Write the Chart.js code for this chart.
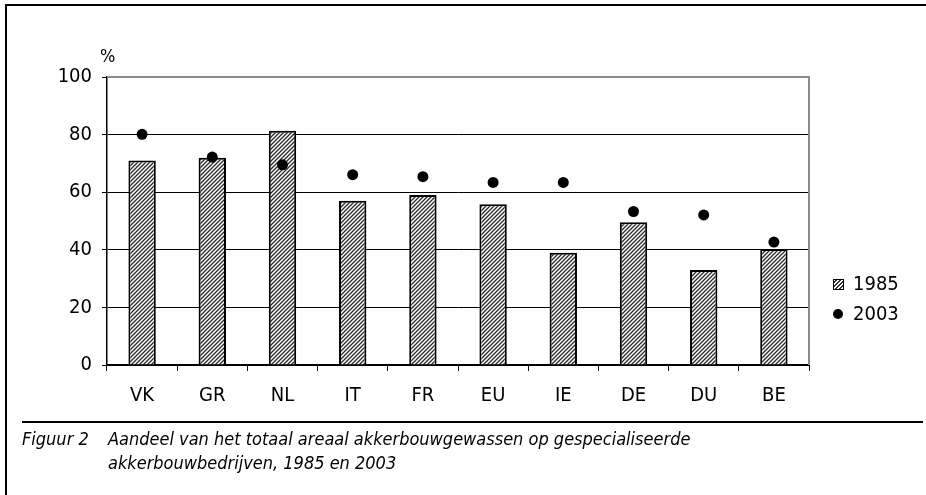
<!DOCTYPE html>
<html><head><meta charset="utf-8">
<script src="https://cdn.jsdelivr.net/npm/chart.js@4.4.1/dist/chart.umd.min.js"></script>
<style>
html,body{margin:0;padding:0;background:#fff;}
#wrap{position:relative;width:926px;height:495px;overflow:hidden;background:#fff;}
#c{position:absolute;left:0;top:0;}
.frameTop{position:absolute;left:5px;top:4px;width:921px;height:2px;background:#000;}
.frameLeft{position:absolute;left:5px;top:4px;width:2px;height:491px;background:#000;}
.capLine{position:absolute;left:22px;top:421px;width:901px;height:2px;background:#000;}
.cap{position:absolute;font-family:"DejaVu Sans Condensed","DejaVu Sans",sans-serif;font-stretch:condensed;font-style:italic;font-size:18px;color:#000;white-space:nowrap;}
.pct{position:absolute;left:100px;top:45px;font-family:"DejaVu Sans Condensed","DejaVu Sans",sans-serif;font-stretch:condensed;font-size:18px;}
.leg{position:absolute;font-family:"DejaVu Sans Condensed","DejaVu Sans",sans-serif;font-stretch:condensed;font-size:20px;white-space:nowrap;}
.sw{position:absolute;left:833px;top:279px;width:9px;height:9px;border:1px solid #000;background:repeating-linear-gradient(-45deg,#fff 0 1.5px,#333 1.5px 3px);}
.dot{position:absolute;left:833px;top:309px;width:10px;height:10px;border-radius:50%;background:#000;}
</style></head>
<body>
<div id="wrap">
<canvas id="c" width="926" height="495"></canvas>
<div class="frameTop"></div><div class="frameLeft"></div>
<div class="pct">%</div>
<div class="sw"></div><div class="leg" style="left:853px;top:271px;">1985</div>
<div class="dot"></div><div class="leg" style="left:853px;top:301px;">2003</div>
<div class="capLine"></div>
<div class="cap" style="left:22px;top:428px;">Figuur 2</div>
<div class="cap" style="left:108px;top:428px;">Aandeel van het totaal areaal akkerbouwgewassen op gespecialiseerde</div>
<div class="cap" style="left:108px;top:452px;">akkerbouwbedrijven, 1985 en 2003</div>
</div>
<script>
const categories = ["VK","GR","NL","IT","FR","EU","IE","DE","DU","BE"];
const values1985 = [71, 72, 81.3, 57, 59, 55.8, 39, 49.6, 33, 40.3];
const values2003 = [80.1, 72.2, 69.5, 66.1, 65.4, 63.4, 63.4, 53.3, 52.1, 42.7];
const yTicks = [0, 20, 40, 60, 80, 100];

function hatch(){
  const p = document.createElement('canvas');
  p.width = 4; p.height = 4;
  const g = p.getContext('2d');
  g.fillStyle = '#fff'; g.fillRect(0,0,4,4);
  g.strokeStyle = '#2a2a2a'; g.lineWidth = 1.3;
  g.beginPath();
  g.moveTo(-1,5); g.lineTo(5,-1);
  g.moveTo(-1,1); g.lineTo(1,-1);
  g.moveTo(3,5); g.lineTo(5,3);
  g.stroke();
  return g.createPattern(p,'repeat');
}
const ctx = document.getElementById('c').getContext('2d');
const tickFont = {family:'"DejaVu Sans Condensed","DejaVu Sans",sans-serif', size:20};

const frame = {
  id:'frame',
  afterDatasetsDraw(chart){
    const a = chart.chartArea, c = chart.ctx;
    c.save();
    c.strokeStyle = '#8c8c8c'; c.lineWidth = 2;
    c.beginPath();
    c.moveTo(a.left, a.top); c.lineTo(a.right, a.top); c.lineTo(a.right, a.bottom);
    c.stroke();
    c.restore();
  }
};

new Chart(ctx, {
  data: {
    labels: categories,
    datasets: [
      {type:'bar', label:'1985', data: values1985, backgroundColor: hatch(), borderColor:'#000', borderWidth:2, barPercentage:0.39, categoryPercentage:1, order:2},
      {type:'line', label:'2003', data: values2003, showLine:false, pointRadius:5.5, pointBackgroundColor:'#000', pointBorderColor:'#000', pointBorderWidth:0, order:1}
    ]
  },
  options: {
    responsive:false, animation:false, devicePixelRatio:1,
    layout:{padding:{left:0, top:77, right:117, bottom:0}},
    plugins:{legend:{display:false}, tooltip:{enabled:false}},
    scales:{
      x:{
        offset:true,
        grid:{offset:true, drawOnChartArea:false, drawTicks:true, tickLength:6, tickColor:'#000', tickWidth:1},
        border:{color:'#000', width:2},
        ticks:{color:'#000', font:tickFont, padding:13},
        afterFit(s){ s.height = 130; }
      },
      y:{
        min:0, max:100,
        afterBuildTicks(s){ s.ticks = yTicks.map(v=>({value:v})); },
        grid:{color:(c)=> (c.tick && (c.tick.value===100||c.tick.value===0)) ? 'rgba(0,0,0,0)' : '#000', lineWidth:1, drawTicks:true, tickLength:5, tickColor:'#000', tickWidth:1},
        border:{color:'#000', width:1.5},
        ticks:{color:'#000', font:tickFont, padding:10},
        afterFit(s){ s.width = 107; }
      }
    }
  },
  plugins:[frame]
});
</script>
</body></html>
